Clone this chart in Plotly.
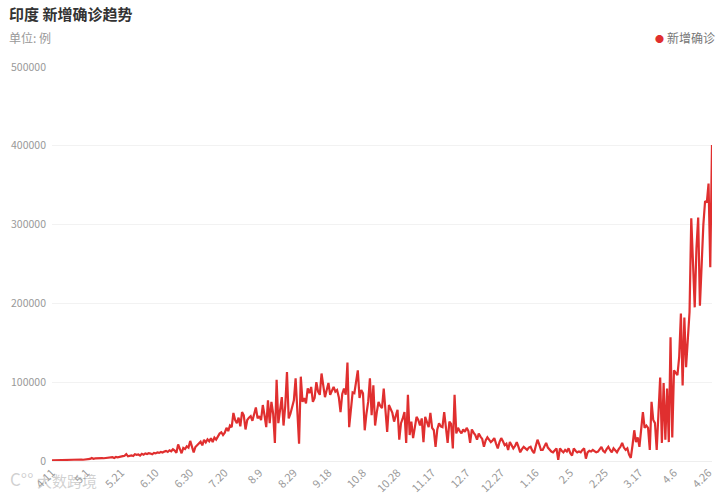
import pandas as pd
import plotly.graph_objects as go

# Daily new confirmed cases, India (2020-04-11 .. 2021-04-28)
start_date = "2020-04-11"
new_cases = [
    900, 1000, 800, 1200, 1100, 900, 1300, 1000, 1400, 1200,
    1500, 1300, 1600, 1400, 1800, 1500, 1700, 1900, 1600, 2000,
    2300, 2100, 2600, 3900, 2800, 3300, 3600, 3100, 3400, 3700,
    3500, 3800, 3700, 3600, 4000, 4900, 3900, 5100, 4700, 5500,
    5600, 6100, 6600, 8800, 5900, 6500, 7200, 6300, 8500, 7900,
    8300, 6900, 9100, 8000, 9600, 8800, 9900, 9400, 8500, 10200,
    9700, 11000, 10300, 11400, 10800, 11900, 12800, 11500, 13600, 12300,
    14800, 13200, 10500, 21000, 13800, 9800, 16500, 15200, 18600, 17000,
    25500, 19500, 11000, 17800, 20500, 22000, 24500, 19800, 26800, 23500,
    27500, 25000, 28900, 24000, 29800, 27200, 31500, 34800, 36500, 33000,
    36000, 42000, 38000, 45000, 43000, 61000, 52000, 48000, 55000, 44000,
    62000, 58000, 40000, 52000, 55000, 57000, 51000, 60000, 68000, 54000,
    57000, 52000, 71000, 58000, 43000, 77000, 48000, 75000, 60000, 23000,
    103000, 48000, 65000, 81000, 45000, 70000, 113000, 54000, 60000, 67000,
    77000, 105000, 70000, 22000, 107000, 75000, 80000, 73000, 92000, 86000,
    94000, 75000, 80000, 100000, 88000, 84000, 111000, 94000, 81000, 90000,
    99000, 84000, 90000, 94000, 88000, 90000, 81000, 62000, 85000, 92000,
    84000, 125000, 43000, 70000, 87000, 86000, 98000, 115000, 80000, 90000,
    86000, 39000, 60000, 75000, 105000, 58000, 96000, 45000, 62000, 75000,
    70000, 67000, 92000, 58000, 37000, 71000, 66000, 61000, 50000, 58000,
    65000, 27000, 48000, 54000, 62000, 23000, 84000, 33000, 50000, 29000,
    45000, 56000, 52000, 45000, 54000, 24000, 56000, 48000, 43000, 61000,
    42000, 39000, 18000, 40000, 48000, 44000, 43000, 62000, 38000, 23000,
    50000, 47000, 16000, 84000, 35000, 42000, 38000, 35000, 40000, 37000,
    42000, 38000, 23000, 40000, 36000, 33000, 27000, 35000, 31000, 28000,
    18000, 26000, 30000, 27000, 24000, 26000, 29000, 22000, 16000, 24000,
    29000, 25000, 20000, 22000, 14000, 24000, 20000, 16000, 19000, 24000,
    18000, 11000, 15000, 18000, 16000, 14000, 17000, 18000, 13000, 10000,
    19000, 27000, 21000, 14000, 14000, 18000, 23000, 17000, 14000, 12000,
    11000, 13000, 16000, 1500, 16000, 13000, 11000, 14000, 12000, 16000,
    10000, 7000, 16000, 13000, 11000, 12000, 11000, 14000, 16000, 3000,
    11000, 13000, 12000, 14000, 13000, 11000, 12000, 15000, 18000, 13000,
    11000, 15000, 18000, 14000, 11000, 16000, 13000, 11000, 15000, 18000,
    23000, 17000, 14000, 16000, 8000, 4000, 20000, 39000, 24000, 30000,
    18000, 40000, 62000, 42000, 45000, 42000, 14000, 75000, 52000, 48000,
    14000, 60000, 106000, 23000, 99000, 27000, 92000, 24000, 157000, 30000,
    115000, 112000, 109000, 132000, 187000, 96000, 182000, 119000, 150000, 189000,
    308000, 240000, 195000, 270000, 309000, 197000, 260000, 300000, 330000, 328000,
    352000, 246000, 401000,
]
dates = pd.date_range(start_date, periods=len(new_cases), freq="D")
tick_dates = list(dates[::20])
tick_labels = [f"{d.month}.{d.day}" for d in tick_dates]
y_ticks = [0, 100000, 200000, 300000, 400000, 500000]

RED = "#e02f2f"
FONT = "Noto Sans CJK SC"

W, H = 720, 496
ML, MR, MT, MB = 52, 8, 67, 35
PW, PH = W - ML - MR, H - MT - MB


def px(x):
    return (x - ML) / PW


def py(y):
    return (H - MB - y) / PH


fig = go.Figure()
fig.add_trace(go.Scatter(
    x=dates, y=new_cases, mode="lines", name="新增确诊",
    line=dict(color=RED, width=2.2), showlegend=False,
))

annotations = [
    dict(text="<b>印度 新增确诊趋势</b>", x=px(7), y=py(14),
         font=dict(size=15, color="#333333", family=FONT)),
    dict(text="单位: 例", x=px(7), y=py(37),
         font=dict(size=12, color="#999999", family=FONT)),
    # legend
    dict(text="●", x=px(653), y=py(38.5),
         font=dict(size=9, color=RED, family=FONT)),
    dict(text="新增确诊", x=px(665), y=py(38),
         font=dict(size=12, color="#777777", family=FONT)),
    # watermark
    dict(text="C°°", x=px(8), y=py(478),
         font=dict(size=17, color="rgba(170,170,170,0.55)", family=FONT)),
    dict(text="大数跨境", x=px(35), y=py(480),
         font=dict(size=15, color="rgba(170,170,170,0.55)", family=FONT)),
]
for a in annotations:
    a.update(xref="paper", yref="paper", xanchor="left", yanchor="middle",
             showarrow=False)

fig.update_layout(
    width=W, height=H,
    margin=dict(l=ML, r=MR, t=MT, b=MB, autoexpand=False),
    paper_bgcolor="white", plot_bgcolor="white",
    font=dict(family=FONT, color="#999999", size=12),
    showlegend=False,
    annotations=annotations,
)

fig.update_xaxes(
    type="date", range=[dates[0], dates[-1]], automargin=False,
    tickmode="array", tickvals=tick_dates, ticktext=tick_labels,
    tickangle=-45, tickfont=dict(size=11, color="#999999"),
    showgrid=False, showline=True, linecolor="#eeeeee", linewidth=1,
    ticks="", zeroline=False,
)
fig.update_yaxes(
    range=[0, 500000], tickmode="array", tickvals=y_ticks, tickformat="d",
    tickfont=dict(size=10.5, color="#999999"), automargin=False,
    ticklabelstandoff=5,
    showgrid=True, gridcolor="#f2f2f2", gridwidth=1,
    zeroline=False, showline=False, ticks="",
)

fig.write_html(
    "out.html",
    config={"displayModeBar": False},
    post_script="document.body.style.margin='0';document.body.style.overflow='hidden';",
)
